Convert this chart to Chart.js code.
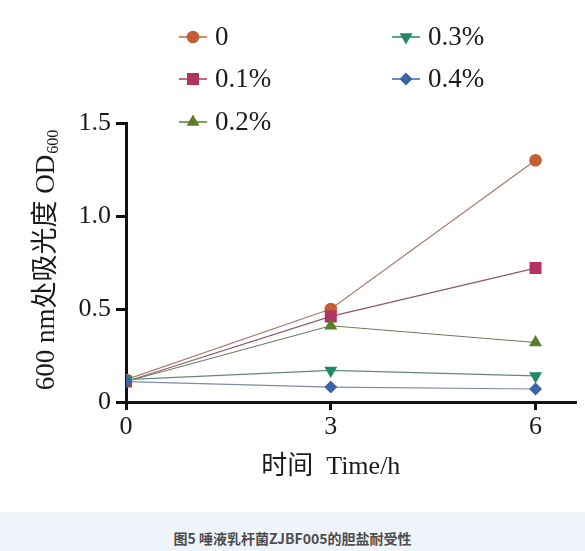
<!DOCTYPE html>
<html>
<head>
<meta charset="utf-8">
<script src="https://cdn.jsdelivr.net/npm/chart.js@4/dist/chart.umd.min.js"></script>
<style>
  html, body { margin: 0; padding: 0; background: #fff; overflow: hidden; }
  #wrap { position: relative; width: 585px; height: 551px; }
  #box { position: absolute; left: 0; top: 0; width: 585px; height: 512px; }
  #cap { position: absolute; left: 0; top: 512px; width: 585px; height: 60px; background: #eff3fa;
         text-align: center; font: bold 14px "Noto Sans CJK SC", "Noto Sans", sans-serif; color: #4d4d4d;
         line-height: 20px; padding-top: 16px; box-sizing: border-box; }
</style>
</head>
<body>
<div id="wrap">
  <div id="box"><canvas id="c"></canvas></div>
  <div id="cap">图5 唾液乳杆菌ZJBF005的胆盐耐受性</div>
</div>
<script>
// ---- data ----
const timePoints = [0, 3, 6];
const xTicks = [0, 3, 6];
const yTicks = [0, 0.5, 1.0, 1.5];
const seriesNames = ['0', '0.1%', '0.2%', '0.3%', '0.4%'];
const od_0    = [0.12, 0.50, 1.30];
const od_01   = [0.11, 0.46, 0.72];
const od_02   = [0.11, 0.41, 0.32];
const od_03   = [0.12, 0.17, 0.14];
const od_04   = [0.11, 0.08, 0.07];
const xTitle = '时间  Time/h';
const yTitleMain = '600 nm处吸光度 OD';
const yTitleSub = '600';

// ---- styles ----
const markerColors = ['#c55e36', '#b1335f', '#5b7e27', '#1f8a63', '#3b63a8'];
const lineColors   = ['#a87a6c', '#8e5670', '#6a7d5a', '#64897b', '#7f8ca2'];
const pointStyles  = ['circle', 'rect', 'triangle', 'triangle', 'rectRot'];
const pointRot     = [0, 0, 0, 180, 0];
const pointRad     = [6.3, 8.5, 7.5, 7.5, 6.5];
const allValues = [od_0, od_01, od_02, od_03, od_04];

const SERIF = '"Liberation Serif", "Noto Sans CJK SC", serif';

function build() {
  const datasets = allValues.map((vals, i) => ({
    label: seriesNames[i],
    data: vals.map((v, k) => ({ x: timePoints[k], y: v })),
    borderColor: lineColors[i],
    borderWidth: 1.2,
    backgroundColor: markerColors[i],
    pointBackgroundColor: markerColors[i],
    pointBorderColor: markerColors[i],
    pointBorderWidth: 0,
    pointStyle: pointStyles[i],
    pointRotation: pointRot[i],
    pointRadius: pointRad[i],
    pointHoverRadius: pointRad[i],
    tension: 0,
    fill: false,
    order: -i
  }));

  const customPlugin = {
    id: 'custom',
    afterDraw(chart) {
      const ctx = chart.ctx;
      const xs = chart.scales.x, ys = chart.scales.y;
      ctx.save();
      ctx.fillStyle = '#1a1a1a';
      // x title
      ctx.font = '26px ' + SERIF;
      ctx.textAlign = 'center';
      ctx.textBaseline = 'middle';
      const xc = (xs.getPixelForValue(xTicks[0]) + xs.getPixelForValue(xTicks[xTicks.length - 1])) / 2;
      ctx.fillText(xTitle, xc, 467);
      // y title (rotated) with subscript
      ctx.save();
      ctx.translate(45, (ys.top + ys.bottom) / 2 - 2);
      ctx.rotate(-Math.PI / 2);
      ctx.font = '27px ' + SERIF;
      const w1 = ctx.measureText(yTitleMain).width;
      ctx.font = '16px ' + SERIF;
      const w2 = ctx.measureText(yTitleSub).width;
      const start = -(w1 + w2) / 2;
      ctx.textAlign = 'left';
      ctx.textBaseline = 'alphabetic';
      ctx.font = '27px ' + SERIF;
      ctx.fillText(yTitleMain, start, 9);
      ctx.font = '16px ' + SERIF;
      ctx.fillText(yTitleSub, start + w1 + 1, 13);
      ctx.restore();

      // legend (column-major, two columns)
      const cols = [193, 406];
      const rows = [37, 79, 122];
      const perCol = 3;
      chart.data.datasets.forEach((ds, i) => {
        const cx = cols[Math.floor(i / perCol)];
        const cy = rows[i % perCol];
        ctx.strokeStyle = ds.pointBackgroundColor;
        ctx.lineWidth = 1.5;
        ctx.beginPath();
        ctx.moveTo(cx - 14, cy);
        ctx.lineTo(cx + 14, cy);
        ctx.stroke();
        ctx.fillStyle = ds.pointBackgroundColor;
        ctx.strokeStyle = ds.pointBackgroundColor;
        Chart.helpers.drawPoint(ctx, {
          pointStyle: ds.pointStyle, rotation: ds.pointRotation,
          radius: ds.pointRadius, borderWidth: 0
        }, cx, cy);
        ctx.fillStyle = '#1a1a1a';
        ctx.font = '27px ' + SERIF;
        ctx.textAlign = 'left';
        ctx.textBaseline = 'middle';
        ctx.fillText(ds.label, cx + 22, cy + 1);
      });
      ctx.restore();
    }
  };

  new Chart(document.getElementById('c'), {
    type: 'line',
    data: { datasets },
    options: {
      responsive: true,
      maintainAspectRatio: false,
      animation: false,
      events: [],
      layout: { padding: { top: 123, right: 7, left: 0, bottom: 0 } },
      plugins: { legend: { display: false }, tooltip: { enabled: false } },
      scales: {
        x: {
          type: 'linear',
          min: 0, max: 6.6,
          afterBuildTicks: s => { s.ticks = xTicks.map(v => ({ value: v })); },
          afterFit: s => { s.height = 110; },
          grid: { drawOnChartArea: false, drawTicks: true, tickLength: 8, tickWidth: 3, tickColor: '#111' },
          border: { display: true, width: 3, color: '#111' },
          ticks: { color: '#1a1a1a', padding: 2, maxRotation: 0, font: { family: SERIF, size: 26 },
                   callback: v => String(v) }
        },
        y: {
          type: 'linear',
          min: 0, max: 1.5,
          afterBuildTicks: s => { s.ticks = yTicks.map(v => ({ value: v })); },
          afterFit: s => { s.width = 126; },
          grid: { drawOnChartArea: false, drawTicks: true, tickLength: 10, tickWidth: 3, tickColor: '#111' },
          border: { display: true, width: 3, color: '#111' },
          ticks: { color: '#1a1a1a', padding: 5, font: { family: SERIF, size: 26 },
                   callback: v => (v === 0 ? '0' : v.toFixed(1)) }
        }
      }
    },
    plugins: [customPlugin]
  });
}

Promise.all([
  document.fonts.load('26px "Liberation Serif"', '0.1%'),
  document.fonts.load('26px "Noto Sans CJK SC"', '时间处吸光度')
]).catch(() => {}).then(build, build);
</script>
</body>
</html>
